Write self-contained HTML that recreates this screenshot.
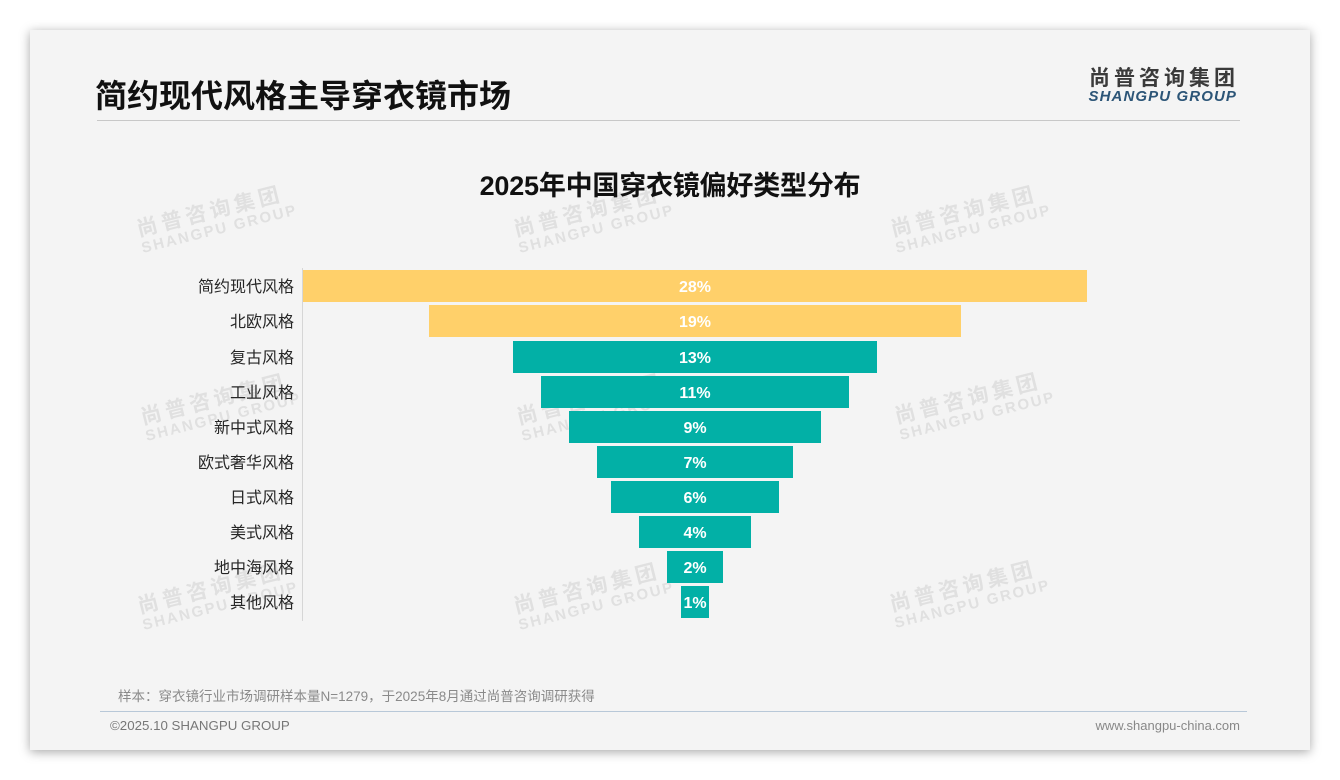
<!DOCTYPE html>
<html>
<head>
<meta charset="utf-8">
<style>
  html,body{margin:0;padding:0;}
  body{width:1340px;height:780px;background:#ffffff;position:relative;overflow:hidden;
       font-family:"Liberation Sans","Noto Sans CJK SC",sans-serif;}
  .card{position:absolute;left:30px;top:30px;width:1280px;height:720px;background:#f4f4f4;
        box-shadow:0 2px 10px rgba(0,0,0,0.35);}
  .abs{position:absolute;white-space:nowrap;}
  .wm{position:absolute;width:200px;height:60px;transform:rotate(-14deg);text-align:center;color:#e0e0e0;font-weight:700;}
  .wm .c{font-family:"Noto Sans CJK SC",sans-serif;font-size:21px;letter-spacing:4px;line-height:24px;}
  .wm .e{font-family:"Liberation Sans",sans-serif;font-size:15px;letter-spacing:2px;line-height:18px;padding-left:10px;}
  .bar{position:absolute;height:32px;line-height:32px;color:#fff;font-weight:700;font-size:16px;
       font-family:"Liberation Sans",sans-serif;}
  .bar span{position:absolute;left:0;top:2px;width:100%;text-align:center;}
  .lab{position:absolute;right:1046px;height:32px;line-height:32px;font-size:16px;color:#262626;
       font-family:"Liberation Sans","Noto Sans CJK SC",sans-serif;white-space:nowrap;text-align:right;margin-top:2px;}
  .y{background:#ffd06a;}
  .t{background:#02b0a6;}
</style>
</head>
<body>
<div class="card"></div>

<!-- header -->
<div class="abs" style="left:95px;top:76px;height:40px;line-height:40px;font-size:32px;font-weight:700;color:#111;font-family:'Liberation Sans','Noto Sans CJK SC',sans-serif;">简约现代风格主导穿衣镜市场</div>
<div class="abs" style="left:97px;top:120px;width:1143px;height:1px;background:#c8c8c8;"></div>

<div class="abs" style="left:1089px;top:64px;height:26px;line-height:26px;font-size:21px;font-weight:700;color:#3a3a3a;letter-spacing:4px;font-family:'Noto Sans CJK SC',sans-serif;">尚普咨询集团</div>
<div class="abs" style="right:103px;top:89px;height:15px;line-height:15px;font-size:15px;font-weight:700;font-style:italic;color:#2c5577;letter-spacing:1.1px;">SHANGPU GROUP</div>

<!-- watermarks -->
<div class="wm" style="left:114px;top:198px;"><div class="c">尚普咨询集团</div><div class="e">SHANGPU GROUP</div></div>
<div class="wm" style="left:491px;top:198px;"><div class="c">尚普咨询集团</div><div class="e">SHANGPU GROUP</div></div>
<div class="wm" style="left:868px;top:198px;"><div class="c">尚普咨询集团</div><div class="e">SHANGPU GROUP</div></div>
<div class="wm" style="left:118px;top:386px;"><div class="c">尚普咨询集团</div><div class="e">SHANGPU GROUP</div></div>
<div class="wm" style="left:494px;top:386px;"><div class="c">尚普咨询集团</div><div class="e">SHANGPU GROUP</div></div>
<div class="wm" style="left:872px;top:385px;"><div class="c">尚普咨询集团</div><div class="e">SHANGPU GROUP</div></div>
<div class="wm" style="left:115px;top:575px;"><div class="c">尚普咨询集团</div><div class="e">SHANGPU GROUP</div></div>
<div class="wm" style="left:491px;top:575px;"><div class="c">尚普咨询集团</div><div class="e">SHANGPU GROUP</div></div>
<div class="wm" style="left:867px;top:573px;"><div class="c">尚普咨询集团</div><div class="e">SHANGPU GROUP</div></div>

<!-- chart title -->
<div class="abs" style="left:370px;width:600px;top:168px;height:36px;line-height:36px;text-align:center;font-size:27px;font-weight:700;color:#111;letter-spacing:-0.2px;font-family:'Liberation Sans','Noto Sans CJK SC',sans-serif;">2025年中国穿衣镜偏好类型分布</div>

<!-- axis -->
<div class="abs" style="left:302px;top:268px;width:1px;height:353px;background:#d6d6d6;"></div>

<!-- labels -->
<div class="lab" style="top:270px;">简约现代风格</div>
<div class="lab" style="top:305px;">北欧风格</div>
<div class="lab" style="top:341px;">复古风格</div>
<div class="lab" style="top:376px;">工业风格</div>
<div class="lab" style="top:411px;">新中式风格</div>
<div class="lab" style="top:446px;">欧式奢华风格</div>
<div class="lab" style="top:481px;">日式风格</div>
<div class="lab" style="top:516px;">美式风格</div>
<div class="lab" style="top:551px;">地中海风格</div>
<div class="lab" style="top:586px;">其他风格</div>

<!-- bars -->
<div class="bar y" style="left:303px;width:784px;top:270px;"><span>28%</span></div>
<div class="bar y" style="left:429px;width:532px;top:305px;"><span>19%</span></div>
<div class="bar t" style="left:513px;width:364px;top:341px;"><span>13%</span></div>
<div class="bar t" style="left:541px;width:308px;top:376px;"><span>11%</span></div>
<div class="bar t" style="left:569px;width:252px;top:411px;"><span>9%</span></div>
<div class="bar t" style="left:597px;width:196px;top:446px;"><span>7%</span></div>
<div class="bar t" style="left:611px;width:168px;top:481px;"><span>6%</span></div>
<div class="bar t" style="left:639px;width:112px;top:516px;"><span>4%</span></div>
<div class="bar t" style="left:667px;width:56px;top:551px;"><span>2%</span></div>
<div class="bar t" style="left:681px;width:28px;top:586px;"><span style="left:-10px;width:48px;">1%</span></div>

<!-- footer -->
<div class="abs" style="left:118px;top:688px;height:18px;line-height:18px;font-size:13.5px;color:#8a8a8a;font-family:'Liberation Sans','Noto Sans CJK SC',sans-serif;">样本：穿衣镜行业市场调研样本量N=1279，于2025年8月通过尚普咨询调研获得</div>
<div class="abs" style="left:100px;top:711px;width:1147px;height:1px;background:#b8c8d8;"></div>
<div class="abs" style="left:110px;top:717px;height:18px;line-height:18px;font-size:13.3px;color:#777;">©2025.10 SHANGPU GROUP</div>
<div class="abs" style="right:100px;top:717px;height:18px;line-height:18px;font-size:13px;color:#888;">www.shangpu-china.com</div>
</body>
</html>
